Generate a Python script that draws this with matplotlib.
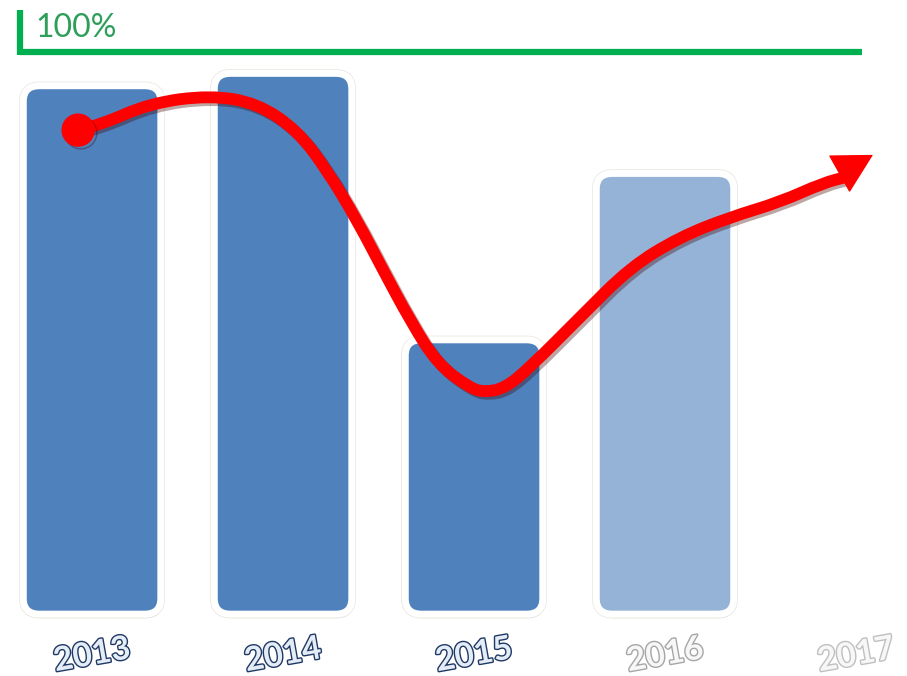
import matplotlib.pyplot as plt
import matplotlib.patheffects as pe
from matplotlib.patches import FancyBboxPatch, PathPatch
from matplotlib.path import Path

# data (0 = bar base, 100 = green target line)
years = ['2013', '2014', '2015', '2016', '2017']
bar_values = [94.0, 96.2, 48.8, 78.4]
bar_colors = ['#4F81BD', '#4F81BD', '#4F81BD', '#95B3D7']
label_fill = ['#E4ECF6', '#E4ECF6', '#E4ECF6', '#F7F7F7', '#F7F7F7']
label_edge = ['#1F3864', '#1F3864', '#1F3864', '#A6A6A6', '#BFBFBF']

# trend curve waypoints (x in category units, y in %)
trend_x = [-0.073, 0.042, 0.304, 0.618, 0.864, 1.073, 1.230, 1.387, 1.524,
           1.665, 1.806, 1.979, 2.058, 2.162, 2.293, 2.555, 2.817, 3.079,
           3.340, 3.602, 3.827, 3.953]
trend_y = [86.1, 87.0, 90.9, 92.3, 90.9, 86.1, 79.0, 70.1, 61.2,
           52.3, 44.6, 40.2, 39.5, 40.2, 43.9, 52.8, 61.7, 67.1,
           70.6, 73.3, 76.7, 77.8]
arrow_tip = (4.089, 81.7)
target = 100

fig = plt.figure(figsize=(9.07, 6.76), dpi=100)
ax = fig.add_axes([0, 0, 1, 1])
ax.set_xlim(-0.482, 4.267)
ax.set_ylim(-11.0, 109.25)
ax.axis('off')

# bars, then swap each for a rounded box of the same size
bars = ax.bar(range(len(bar_values)), bar_values, width=0.72, color=bar_colors)
for b in bars:
    x0, y0 = b.get_x(), b.get_y()
    w, h = b.get_width(), b.get_height()
    style = 'round,pad=0,rounding_size=0.085'
    rim = FancyBboxPatch((x0, y0), w, h, boxstyle=style, mutation_aspect=33,
                         facecolor='white', edgecolor='#EAE4DC', linewidth=6,
                         zorder=2)
    rim.set_path_effects([pe.withSimplePatchShadow(offset=(1, -3),
                                                   shadow_rgbFace='#A89C90',
                                                   alpha=0.25)])
    ax.add_patch(rim)
    box = FancyBboxPatch((x0, y0), w, h, boxstyle=style, mutation_aspect=33,
                         facecolor=b.get_facecolor(), edgecolor='white',
                         linewidth=5, zorder=3)
    ax.add_patch(box)
    b.remove()

# green 100% marker
ax.plot([-0.377, 4.031], [target, target], color='#00B050', lw=4.5,
        solid_capstyle='butt', zorder=1)
ax.plot([-0.377, -0.377], [target - 0.5, target + 7.5], color='#00B050',
        lw=4.5, solid_capstyle='butt', zorder=1)
ax.text(-0.295, target + 4.2, f'{target}%', color='#2E9E5B', fontsize=23,
        family='Lato', va='center', ha='left')

# red trend curve: waypoints used as quadratic bezier controls
pts = list(zip(trend_x, trend_y))
verts = [pts[0]]
codes = [Path.MOVETO]
for p, q in zip(pts[1:-1], pts[2:]):
    verts += [p, ((p[0] + q[0]) / 2, (p[1] + q[1]) / 2)]
    codes += [Path.CURVE3, Path.CURVE3]
verts.append(pts[-1])
codes.append(Path.LINETO)

shadow = [pe.SimpleLineShadow(offset=(2, -2), shadow_color='#400000', alpha=0.35),
          pe.Normal()]
curve = PathPatch(Path(verts, codes), facecolor='none', edgecolor='#FF0000',
                  lw=8.5, capstyle='round', joinstyle='round', zorder=4)
curve.set_path_effects(shadow)
ax.add_patch(curve)
ax.plot(trend_x[0], trend_y[0], 'o', color='#FF0000', markersize=23, zorder=5,
        path_effects=shadow)
ax.annotate('', xy=arrow_tip, xytext=(trend_x[-2], trend_y[-2]),
            arrowprops=dict(arrowstyle='-|>,head_length=1.1,head_width=0.6',
                            mutation_scale=24, color='#FF0000', lw=1,
                            shrinkA=0, shrinkB=0), zorder=5)

# outlined, slightly tilted year labels
for i, yr in enumerate(years):
    ax.text(i, -7.3, yr, fontsize=24, family='Lato', weight='bold',
            color=label_fill[i], rotation=10, ha='center', va='center',
            path_effects=[pe.Stroke(linewidth=2.0, foreground=label_edge[i]),
                          pe.Normal()])

fig.savefig('out.png', dpi=100)
